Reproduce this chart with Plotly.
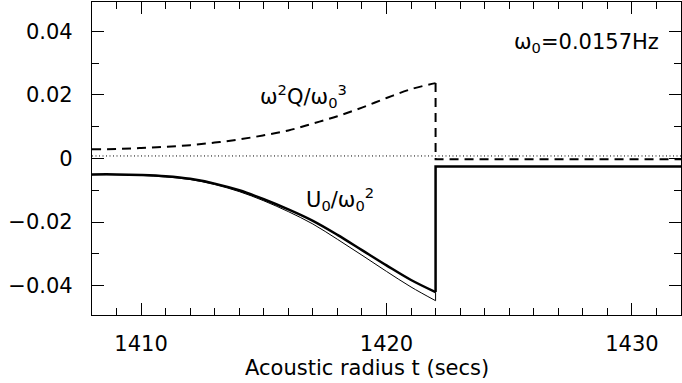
import plotly.graph_objects as go

# Acoustic radius (secs)
t_left = [1408, 1409, 1410, 1411, 1412, 1413, 1414, 1415, 1416, 1417, 1418, 1419, 1420, 1421, 1422]
# omega^2 Q / omega0^3 (dashed)
q_left = [0.0029, 0.0030, 0.0033, 0.0037, 0.0042, 0.0050, 0.0060, 0.0073, 0.0088, 0.0110, 0.0133, 0.0160, 0.0190, 0.0218, 0.0237]
q_right_t = [1422, 1422, 1432]
q_right = [0.0237, -0.0002, -0.0002]
# U0 / omega0^2 (thick solid)
u_thick = [-0.0050, -0.0050, -0.0052, -0.0056, -0.0064, -0.0079, -0.0100, -0.0128, -0.0160, -0.0196, -0.0240, -0.0288, -0.0336, -0.0382, -0.0420]
u_right_t = [1422, 1422, 1432]
u_right = [-0.0420, -0.0025, -0.0025]
# second (thin solid) curve
u_thin = [-0.0051, -0.0051, -0.0053, -0.0058, -0.0066, -0.0082, -0.0104, -0.0133, -0.0167, -0.0206, -0.0254, -0.0304, -0.0355, -0.0404, -0.0447]
thin_end_t = [1422, 1422]
thin_end = [-0.0447, -0.0420]
# reference dotted level
ref_t = [1408, 1432]
ref_y = [0.0008, 0.0008]

X_RANGE = [1408, 1432]
Y_RANGE = [-0.0492, 0.0492]

FONT = "DejaVu Sans"
FS = 21

fig = go.Figure()
fig.add_trace(go.Scatter(x=ref_t, y=ref_y, mode="lines",
                         line=dict(color="black", width=1, dash="1px,2.5px")))
fig.add_trace(go.Scatter(x=t_left, y=q_left, mode="lines",
                         line=dict(color="black", width=2, dash="9px,6px", shape="spline")))
fig.add_trace(go.Scatter(x=q_right_t, y=q_right, mode="lines",
                         line=dict(color="black", width=2, dash="9px,6px")))
fig.add_trace(go.Scatter(x=t_left, y=u_thin, mode="lines",
                         line=dict(color="black", width=1, shape="spline")))
fig.add_trace(go.Scatter(x=thin_end_t, y=thin_end, mode="lines",
                         line=dict(color="black", width=1)))
fig.add_trace(go.Scatter(x=t_left, y=u_thick, mode="lines",
                         line=dict(color="black", width=2.5, shape="spline")))
fig.add_trace(go.Scatter(x=u_right_t, y=u_right, mode="lines",
                         line=dict(color="black", width=2.5)))

fig.add_annotation(x=1416.6, y=0.0195, text="\u03c9<sup>2</sup>Q/\u03c9<sub>0</sub><sup>3</sup>",
                   showarrow=False, font=dict(family=FONT, size=FS, color="black"))
fig.add_annotation(x=1418.1, y=-0.0128, text="U<sub>0</sub>/\u03c9<sub>0</sub><sup>2</sup>",
                   showarrow=False, font=dict(family=FONT, size=FS, color="black"))
fig.add_annotation(x=1431.2, y=0.0362, text="\u03c9<sub>0</sub>=0.0157Hz", xanchor="right",
                   showarrow=False, font=dict(family=FONT, size=FS, color="black"))
# x-axis title (placed as in the reference, slightly left of centre)
fig.add_annotation(xref="paper", yref="paper", x=0.467, y=-0.125, yanchor="top",
                   text="Acoustic radius t (secs)", showarrow=False,
                   font=dict(family=FONT, size=FS, color="black"))

axis_common = dict(showline=True, linecolor="black", linewidth=1.2, mirror="allticks",
                   ticks="inside", ticklen=12, tickwidth=1.3, tickcolor="black",
                   showgrid=False, zeroline=False,
                   tickfont=dict(family=FONT, size=FS, color="black"))

fig.update_xaxes(range=X_RANGE, tick0=1410, dtick=10, ticklabelstandoff=10,
                 minor=dict(tick0=1410, dtick=1, ticks="inside", ticklen=7, tickwidth=1.3,
                            tickcolor="black", showgrid=False),
                 **axis_common)
fig.update_yaxes(range=Y_RANGE, tick0=0, dtick=0.02, ticklabelstandoff=14,
                 minor=dict(tick0=0, dtick=0.01, ticks="inside", ticklen=7, tickwidth=1.3,
                            tickcolor="black", showgrid=False),
                 **axis_common)

fig.update_layout(width=682, height=383, margin=dict(l=92, r=1, t=2, b=68),
                  plot_bgcolor="white", paper_bgcolor="white", showlegend=False,
                  font=dict(family=FONT, size=FS, color="black"))

fig.write_html("out.html")
